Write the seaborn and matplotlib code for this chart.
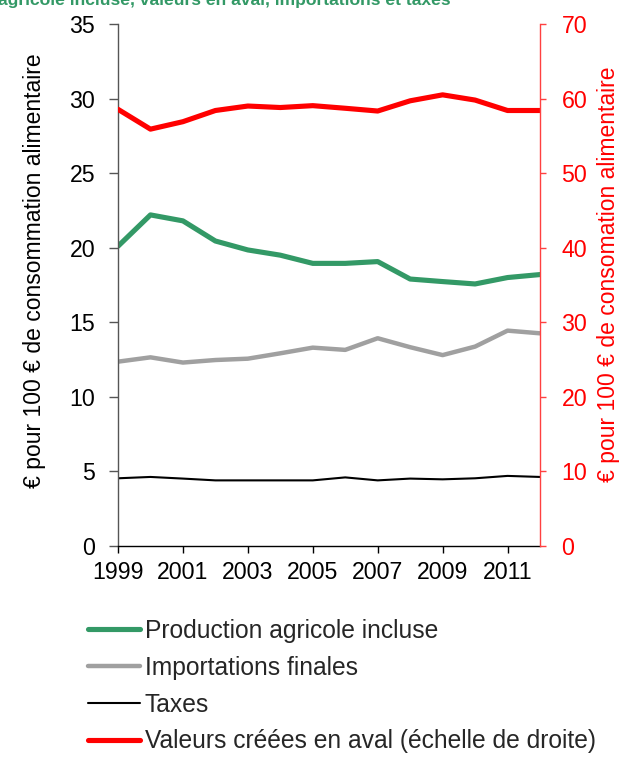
import matplotlib
matplotlib.use("Agg")
import matplotlib.pyplot as plt
import seaborn as sns
import pandas as pd

years = list(range(1999, 2013))
production_agricole = [20.1, 22.2, 21.8, 20.45, 19.85, 19.5, 18.95, 18.95, 19.07, 17.9, 17.73, 17.57, 18.0, 18.2]
importations = [12.36, 12.65, 12.3, 12.47, 12.56, 12.92, 13.3, 13.15, 13.93, 13.33, 12.8, 13.37, 14.44, 14.26]
taxes = [4.54, 4.63, 4.52, 4.4, 4.4, 4.4, 4.4, 4.6, 4.4, 4.52, 4.47, 4.54, 4.7, 4.63]
valeurs_aval = [58.56, 55.9, 56.9, 58.4, 59.0, 58.8, 59.05, 58.7, 58.33, 59.7, 60.5, 59.8, 58.4, 58.4]
xtick_years = [1999, 2001, 2003, 2005, 2007, 2009, 2011]

labels = ["Production agricole incluse", "Importations finales", "Taxes",
          "Valeurs créées en aval (échelle de droite)"]

sns.set_theme(style="white")
plt.rcParams['font.family'] = ['Liberation Sans', 'DejaVu Sans']

GREEN = "#339966"
GRAY = "#A0A0A0"
RED = "#FF0000"

fig = plt.figure(figsize=(6.39, 7.62), dpi=100)
ax = fig.add_axes([118/639, 1-546/762, (540-118)/639, (546-24)/762])
ax2 = ax.twinx()

df = pd.DataFrame({"year": years, "prod": production_agricole, "imp": importations,
                   "tax": taxes, "aval": valeurs_aval})

sns.lineplot(data=df, x="year", y="prod", ax=ax, color=GREEN, linewidth=3.7, label=labels[0], legend=False)
sns.lineplot(data=df, x="year", y="imp", ax=ax, color=GRAY, linewidth=3.2, label=labels[1], legend=False)
sns.lineplot(data=df, x="year", y="tax", ax=ax, color="black", linewidth=1.5, label=labels[2], legend=False)
sns.lineplot(data=df, x="year", y="aval", ax=ax2, color=RED, linewidth=3.7, label=labels[3], legend=False)

ax.set_xlim(1999, 2012)
ax.set_ylim(0, 35)
ax2.set_ylim(0, 70)
ax.set_yticks(range(0, 36, 5))
ax2.set_yticks(range(0, 71, 10))
ax.set_xticks(xtick_years)
ax.set_xticklabels([str(y) for y in xtick_years])

ax.set_xlabel("")
ax.set_ylabel("")
ax2.set_ylabel("")
fig.text(35/639, 1-271/762, "€ pour 100 € de consommation alimentaire", rotation=90,
         fontsize=16.5, color="black", ha="center", va="center")
fig.text(608/639, 1-274/762, "€ pour 100 € de consomation alimentaire", rotation=90,
         fontsize=16.5, color=RED, ha="center", va="center")

for a in (ax, ax2):
    a.spines["top"].set_visible(False)
ax.spines["right"].set_visible(False)
ax2.spines["left"].set_visible(False)
ax2.spines["bottom"].set_visible(False)
ax.spines["left"].set_color("#555555")
ax.spines["bottom"].set_color("black")
ax2.spines["right"].set_color("#FF4040")
for s in ("left", "bottom"):
    ax.spines[s].set_linewidth(1.0)
ax2.spines["right"].set_linewidth(1.0)

ax.tick_params(axis="both", which="major", direction="out", width=1,
               labelsize=16.7, labelcolor="black", left=True, bottom=True)
ax.tick_params(axis="y", length=6.5, pad=10, color="#555555")
ax.tick_params(axis="x", length=5, pad=6, color="black")
ax2.tick_params(axis="y", direction="out", length=4.5, width=1, labelsize=16.7,
                color="#FF4040", labelcolor=RED, right=True, pad=11)
ax.grid(False)
ax2.grid(False)

h1, l1 = ax.get_legend_handles_labels()
h2, l2 = ax2.get_legend_handles_labels()
fig.legend(h1 + h2, l1 + l2, loc="upper left", bbox_to_anchor=(88/639, 1-619/762),
           frameon=False, fontsize=17.7, handlelength=2.1, handletextpad=0.2,
           labelspacing=0.52, borderaxespad=0, borderpad=0)

fig.text(-2/639, 1-5/762, "agricole incluse, valeurs en aval, importations et taxes",
         color=GREEN, fontsize=12.6, fontweight="bold", ha="left", va="baseline")

fig.savefig("out.png", dpi=100)
